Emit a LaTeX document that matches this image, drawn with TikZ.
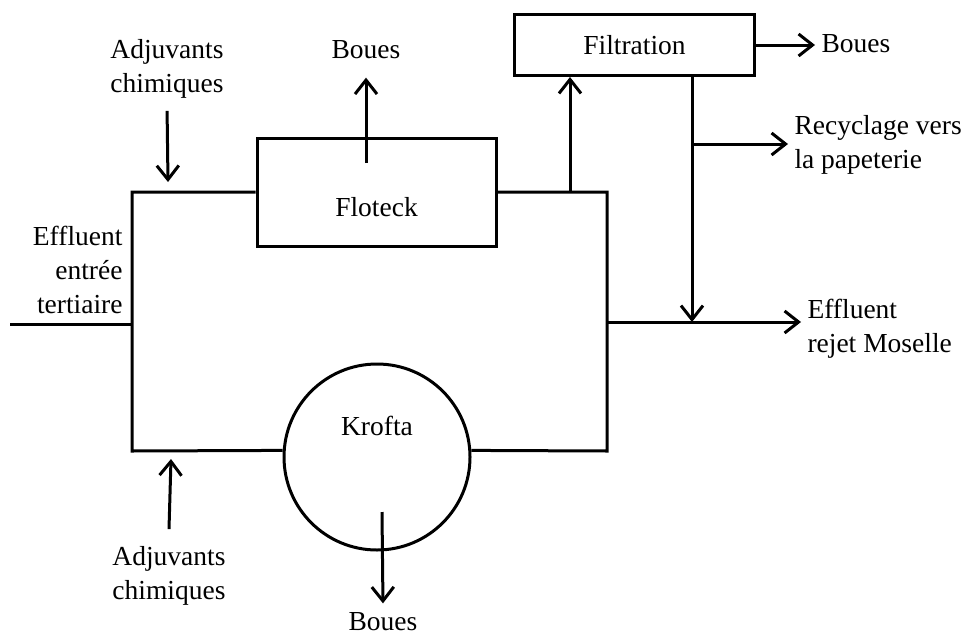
\documentclass[tikz,border=0pt]{standalone}
\usepackage{fontspec}
\setmainfont{Liberation Serif}
\usetikzlibrary{arrows.meta}
\usetikzlibrary{positioning,calc}

\begin{document}
\begin{tikzpicture}[x=1pt,y=-1pt,line width=3pt,
    flow/.style={-{Straight Barb[length=14pt,width=22pt]}},
    txt/.style={font=\fontsize{27.5}{34}\selectfont,inner sep=5pt},
    unit/.style={draw,rectangle,inner sep=0pt}]
    \useasboundingbox (0,0) rectangle (979,637);
    % the treatment units
    \node[unit,minimum width=239pt,minimum height=108pt] (floteck) at (376.5,192) {};
    \node[txt] at ([yshift=-15pt]floteck.center) {Floteck};
    \node[draw,circle,minimum size=186pt,inner sep=0pt] (krofta) at (377,457) {};
    \node[txt] at ([yshift=31pt]krofta.center) {Krofta};
    \node[unit,minimum width=240pt,minimum height=61pt,txt,inner sep=0pt] (filtration)
      at (634.5,45) {Filtration};
    % the main loop
    \coordinate (inl) at (10,324);
    \coordinate (jl) at (132,324);
    \coordinate (tl) at (132,192);
    \coordinate (bl) at (132,451);
    \coordinate (tr) at (607,192);
    \coordinate (br) at (607,451);
    \coordinate (out) at (607,322);
    \draw (inl) -- (jl);
    \draw (floteck.west) -- (tl) -- (bl) -- (krofta.176);
    \draw (floteck.east) -- (tr) -- (br) -- (krofta.4);
    \node[txt,anchor=east,align=right] (entree) at (129,270)
      {Effluent\\entrée\\tertiaire};
    % chemicals in
    \node[txt,align=center] (adjtop) at (167,69) {Adjuvants\\chimiques};
    \coordinate (adjin) at (168,182);
    \draw[flow,shorten <=6pt] (adjtop.south) -- (adjin);
    \node[txt,align=center] (adjbot) at (169,576) {Adjuvants\\chimiques};
    \coordinate (adjbin) at (171,459);
    \draw[flow] ([yshift=11pt]adjbot.north) -- (adjbin);
    % sludge out
    \node[txt] (bouesh) at (366,50) {Boues};
    \coordinate (fsl) at (366,163);
    \draw[flow,shorten >=12pt] (fsl) -- (bouesh.south);
    \node[txt] (bouesb) at (383,622) {Boues};
    \coordinate (ksl) at (382,512);
    \draw[flow,shorten >=3pt] (ksl) -- (bouesb.north);
    \node[txt,anchor=west] (bouesf) at (815,44) {Boues};
    \draw[flow] (filtration.east) -- (bouesf.west |- filtration.east);
    % to and from the filtration
    \coordinate (tap) at (570,192);
    \draw[flow] (tap) -- (tap |- filtration.south);
    \coordinate (drop) at (692,322);
    \draw[flow] (drop |- filtration.south) -- (drop);
    \node[txt,anchor=west,align=left] (recyc) at (788,145) {Recyclage vers\\la papeterie};
    \draw[flow] (drop |- 0,144) -- (recyc.west |- 0,144);
    \node[txt,anchor=west,align=left] (rejet) at (801,329) {Effluent\\rejet Moselle};
    \draw[flow] (out) -- (rejet.west |- out);
\end{tikzpicture}
\end{document}
